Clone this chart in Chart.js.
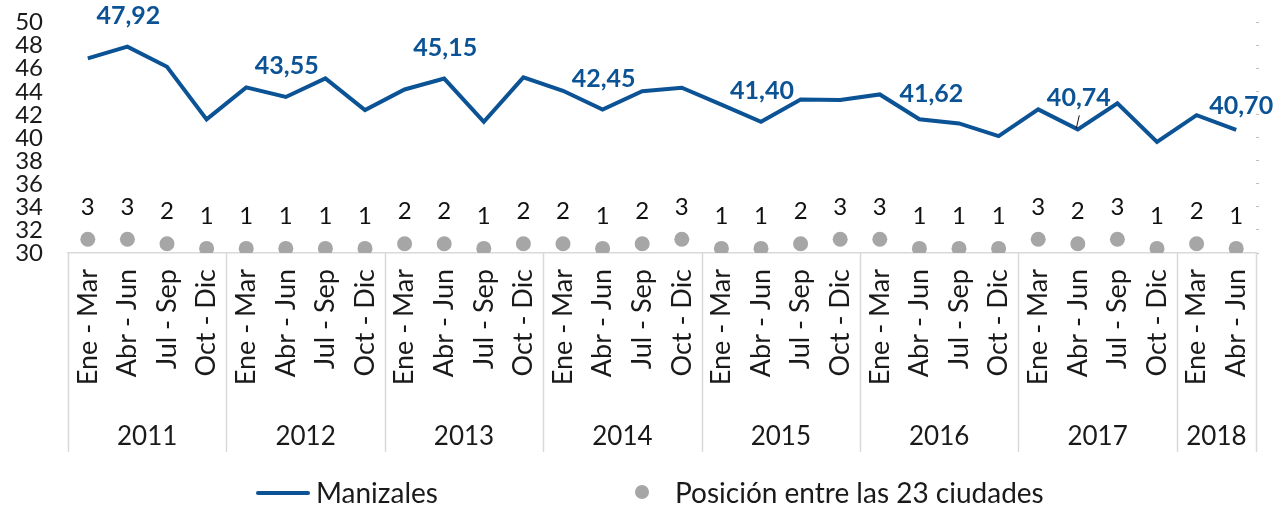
<!DOCTYPE html>
<html>
<head>
<meta charset="utf-8">
<script src="https://cdn.jsdelivr.net/npm/chart.js@4.4.1/dist/chart.umd.min.js"></script>
<style>
  html, body { margin: 0; padding: 0; background: #ffffff; }
  #wrap { position: relative; width: 1287px; height: 511px; overflow: hidden; }
  #c { position: absolute; left: 0; top: 0; }
  .lg-text { position: absolute; font-family: Lato, sans-serif; font-size: 28px; color: #1a1a1a; line-height: 30px; white-space: nowrap; }
  .lg-line { position: absolute; height: 4px; background: #0b5394; border-radius: 2px; }
  .lg-dot { position: absolute; width: 14px; height: 14px; border-radius: 50%; background: #a6a6a6; }
</style>
</head>
<body>
<div id="wrap">
  <canvas id="c" width="1287" height="511"></canvas>
  <div class="lg-line" style="left:256px; top:491px; width:54px;"></div>
  <div class="lg-text" id="lg1" style="left:316px; top:477px;"></div>
  <div class="lg-dot" style="left:635px; top:485px;"></div>
  <div class="lg-text" id="lg2" style="left:675px; top:477px;"></div>
</div>
<script>
// ---- data ----
const years = ['2011', '2012', '2013', '2014', '2015', '2016', '2017', '2018'];
const quartersPerYear = [4, 4, 4, 4, 4, 4, 4, 2];
const quarterNames = ['Ene - Mar', 'Abr - Jun', 'Jul - Sep', 'Oct - Dic'];
const manizales = [46.90, 47.92, 46.17, 41.60, 44.38, 43.55, 45.16, 42.41, 44.20, 45.15,
                   41.39, 45.25, 44.09, 42.45, 44.05, 44.35, 42.89, 41.40, 43.34, 43.28,
                   43.77, 41.62, 41.25, 40.15, 42.47, 40.74, 43.00, 39.65, 41.97, 40.70];
const posiciones = [3, 3, 2, 1, 1, 1, 1, 1, 2, 2, 1, 2, 2, 1, 2, 3, 1, 1, 2, 3,
                    3, 1, 1, 1, 3, 2, 3, 1, 2, 1];
const seriesNames = ['Manizales', 'Posición entre las 23 ciudades'];
const yTicks = [30, 32, 34, 36, 38, 40, 42, 44, 46, 48, 50];

// ---- derived ----
const quarterLabels = [];
const yearIndex = [];
quartersPerYear.forEach((n, yi) => {
  for (let q = 0; q < n; q++) { quarterLabels.push(quarterNames[q]); yearIndex.push(yi); }
});
document.getElementById('lg1').textContent = seriesNames[0];
document.getElementById('lg2').textContent = seriesNames[1];

const BLUE = '#0b5394';
const GRAY = '#a6a6a6';
const FONT = 'Lato, sans-serif';
const fmt = v => v.toFixed(2).replace('.', ',');

// label placement tweaks (style, not data)
const labelOffsets = { 21: [12, -26], 29: [5, -25] };
const leaderIdx = 25;

const overlay = {
  id: 'overlay',
  afterDatasetsDraw(chart) {
    const ctx = chart.ctx;
    const xs = chart.scales.x, ys = chart.scales.y, y2 = chart.scales.y2;
    ctx.save();
    // position numbers above dots
    ctx.font = '24px ' + FONT;
    ctx.fillStyle = '#111111';
    ctx.textAlign = 'center';
    ctx.textBaseline = 'alphabetic';
    posiciones.forEach((v, i) => {
      const px = xs.getPixelForValue(i);
      const py = y2.getPixelForValue(v);
      ctx.fillText(String(v), px, py - 33 + 8.6);
    });
    // value labels on line
    ctx.font = 'bold 25px ' + FONT;
    ctx.fillStyle = BLUE;
    quarterLabels.forEach((q, i) => {
      if (q !== 'Abr - Jun') return;
      const px = xs.getPixelForValue(i);
      const py = ys.getPixelForValue(manizales[i]);
      const off = labelOffsets[i] || [1, -32];
      ctx.fillText(fmt(manizales[i]), px + off[0], py + off[1] + 9);
      if (i === leaderIdx) {
        ctx.save();
        ctx.strokeStyle = '#111111';
        ctx.lineWidth = 1;
        ctx.beginPath();
        ctx.moveTo(px + 1.5, py - 14);
        ctx.lineTo(px - 1.5, py - 1);
        ctx.stroke();
        ctx.restore();
      }
    });
    ctx.restore();
  },
  afterDraw(chart) {
    const ctx = chart.ctx;
    const xs = chart.scales.x;
    const half = (xs.getPixelForValue(1) - xs.getPixelForValue(0)) / 2;
    const top = xs.top;
    const bottom = top + 199;
    ctx.save();
    ctx.strokeStyle = '#d9d9d9';
    ctx.lineWidth = 1.5;
    // separators
    let start = 0;
    const bounds = [xs.left];
    quartersPerYear.forEach(n => { start += n; bounds.push(xs.getPixelForValue(start - 1) + half); });
    bounds.forEach(b => {
      ctx.beginPath();
      ctx.moveTo(Math.round(b) + 0.5, top);
      ctx.lineTo(Math.round(b) + 0.5, bottom);
      ctx.stroke();
    });
    // year labels
    ctx.font = '26px ' + FONT;
    ctx.fillStyle = '#1a1a1a';
    ctx.textAlign = 'center';
    ctx.textBaseline = 'alphabetic';
    years.forEach((yr, k) => {
      const cx = (bounds[k] + bounds[k + 1]) / 2;
      ctx.fillText(yr, cx, 445);
    });
    ctx.restore();
  }
};

function noPad(scale) {
  scale.paddingTop = 0;
  scale.paddingBottom = 0;
}

new Chart(document.getElementById('c'), {
  type: 'line',
  data: {
    labels: quarterLabels,
    datasets: [
      {
        label: seriesNames[0],
        data: manizales,
        yAxisID: 'y',
        borderColor: BLUE,
        backgroundColor: BLUE,
        borderWidth: 4,
        pointRadius: 0,
        tension: 0,
        borderJoinStyle: 'miter',
        fill: false
      },
      {
        label: seriesNames[1],
        data: posiciones,
        yAxisID: 'y2',
        showLine: false,
        pointRadius: 7.5,
        pointBackgroundColor: GRAY,
        pointBorderWidth: 0,
        borderColor: GRAY,
        backgroundColor: GRAY
      }
    ]
  },
  options: {
    responsive: false,
    animation: false,
    devicePixelRatio: 1,
    layout: { padding: { top: 22.7, bottom: 56, left: 0, right: 0 } },
    plugins: {
      legend: { display: false },
      tooltip: { enabled: false }
    },
    scales: {
      x: {
        type: 'category',
        offset: true,
        grid: { display: false, drawTicks: false },
        border: { display: true, color: '#d9d9d9', width: 1.5 },
        ticks: {
          autoSkip: false,
          minRotation: 90,
          maxRotation: 90,
          padding: 16,
          color: '#1a1a1a',
          font: { family: FONT, size: 27, lineHeight: 1 }
        },
        afterFit(scale) { scale.height = 202; }
      },
      y: {
        position: 'left',
        min: 30,
        max: 50,
        afterBuildTicks(scale) { scale.ticks = yTicks.map(v => ({ value: v })); },
        grid: { display: false, drawTicks: false },
        border: { display: false },
        ticks: {
          autoSkip: false,
          padding: 25,
          color: '#1a1a1a',
          font: { family: FONT, size: 24, lineHeight: 1 }
        },
        afterFit(scale) { scale.width = 68; noPad(scale); }
      },
      y2: {
        position: 'right',
        min: 0,
        max: 50,
        ticks: { display: false, stepSize: 5 },
        grid: { drawOnChartArea: false, drawTicks: true, tickLength: 3, color: '#bfbfbf' },
        border: { display: false },
        afterFit(scale) { scale.width = 31; noPad(scale); }
      }
    }
  },
  plugins: [overlay]
});
</script>
</body>
</html>
